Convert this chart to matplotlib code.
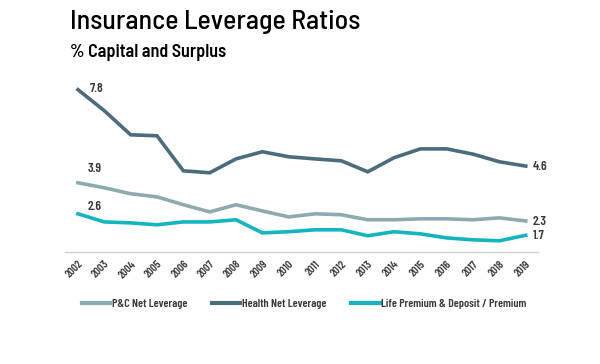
import matplotlib
matplotlib.use("Agg")
import matplotlib.pyplot as plt
from matplotlib import font_manager as fm

years = list(range(2002, 2020))
pc_net = [3.9, 3.69, 3.44, 3.31, 2.98, 2.68, 2.98, 2.72, 2.47, 2.6, 2.56,
          2.35, 2.35, 2.39, 2.39, 2.35, 2.43, 2.3]
health_net = [7.8, 6.92, 5.91, 5.87, 4.40, 4.32, 4.9, 5.2, 4.99, 4.9, 4.82,
              4.36, 4.95, 5.32, 5.32, 5.1, 4.78, 4.6]
life_prem = [2.6, 2.26, 2.22, 2.14, 2.26, 2.26, 2.35, 1.8, 1.85, 1.93, 1.93,
             1.68, 1.85, 1.76, 1.59, 1.51, 1.47, 1.7]
series_names = ["P&C Net Leverage", "Health Net Leverage",
                "Life Premium & Deposit / Premium"]
colors = ["#8eaab1", "#4b6c7d", "#13b5c1"]
# where the first-value label sits relative to the first point (pixels)
first_offsets = [(10, 14), (12, 1), (10, 7)]


def pick(*fams):
    have = {f.name for f in fm.fontManager.ttflist}
    return [f for f in fams if f in have] + ["DejaVu Sans"]


label_font = pick("Barlow Condensed", "Archivo Narrow", "Liberation Sans Narrow")
title_font = pick("Barlow Semi Condensed", "Barlow Condensed", "Archivo Narrow")
plt.rcParams['font.family'] = label_font
text_col = "#3a3a3a"

fig = plt.figure(figsize=(6, 3.64), dpi=100, facecolor="white")
ax = fig.add_axes([0.108, 0.3077, 0.788, 0.459])

for vals, name, c, off in zip([pc_net, health_net, life_prem], series_names,
                              colors, first_offsets):
    ax.plot(years, vals, color=c, lw=2.6, label=name, solid_joinstyle="miter")
    ax.annotate(f"{vals[0]:.1f}", (years[0], vals[0]), xytext=off,
                textcoords="offset pixels", fontsize=9.5, fontweight=600,
                color=text_col, va="center", ha="left")
    ax.annotate(f"{vals[-1]:.1f}", (years[-1], vals[-1]), xytext=(7, -1),
                textcoords="offset pixels", fontsize=9.5, fontweight=600,
                color=text_col, va="center", ha="left")

ax.set_xlim(2001.5, 2019.45)
ax.set_ylim(1, 8)
ax.set_xticks(years)
ax.set_xticklabels([str(y) for y in years], rotation=45, ha="right",
                   rotation_mode="anchor", fontsize=8, color=text_col,
                   fontweight=600)
ax.tick_params(axis="x", length=0, pad=5)
ax.set_yticks([])
for s in ["top", "right", "left"]:
    ax.spines[s].set_visible(False)
ax.spines["bottom"].set_color("#d0d0d0")
ax.spines["bottom"].set_linewidth(1)

leg = fig.legend(loc="center", bbox_to_anchor=(0.507, 0.166), ncol=3,
                 frameon=False, fontsize=8.5, handlelength=2.4,
                 handletextpad=0.15, columnspacing=2.1)
for t in leg.get_texts():
    t.set_color(text_col)
    t.set_fontweight(600)
for h in leg.get_lines():
    h.set_linewidth(3)

fig.text(0.117, 0.94, "Insurance Leverage Ratios", fontsize=20, color="black",
         va="center", ha="left", family=title_font, fontweight=500)
fig.text(0.117, 0.855, "% Capital and Surplus", fontsize=13, fontweight=600,
         color="black", va="center", ha="left", family=title_font)

fig.savefig("out.png", dpi=100, facecolor="white")
